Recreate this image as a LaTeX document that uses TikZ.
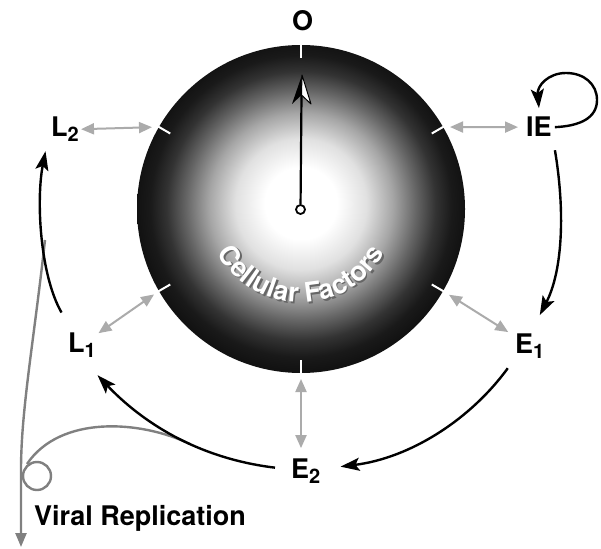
\documentclass[tikz,border=0pt]{standalone}
\usepackage{fontspec}
\setmainfont{TeX Gyre Heros}
\usetikzlibrary{arrows.meta,decorations.text,calc}
\pgfdeclareradialshading{cellshade}{\pgfpoint{0bp}{1bp}}{color(0bp)=(white); color(5.5bp)=(white); color(10bp)=(black!12); color(14bp)=(black!35); color(17.5bp)=(black!60); color(20.5bp)=(black!80); color(23bp)=(black!90); color(25bp)=(black!93); color(40bp)=(black!93)}
\newcommand\sbx[1]{\raisebox{-5pt}{\fontsize{20}{20}\selectfont #1}}
\newcommand\cffont{\fontsize{27}{27}\selectfont\bfseries}
\begin{document}
\begin{tikzpicture}[x=1pt,y=1pt,
 lbl/.style={font=\fontsize{27}{27}\selectfont\bfseries, inner sep=0pt, anchor=base west},
 gdbl/.style={draw=black!33, line width=2pt, {Triangle[length=13pt,width=11pt]}-{Triangle[length=13pt,width=11pt]}},
 blk/.style={draw=black, line width=2.4pt, -{Stealth[length=19pt,width=13pt,inset=4pt]}},
 vrline/.style={draw=black!50, line width=2.4pt},
 tickline/.style={white, line width=2pt}]
\useasboundingbox (0,0) rectangle (601,-548);
\fill[white] (0,0) rectangle (601,-548);

% labels
\node[lbl] (O) at (292,-31) {O};
\node[lbl] (IE) at (526,-137) {IE};
\node[lbl] (L2) at (51,-137) {L\sbx{2}};
\node[lbl] (L1) at (68,-352) {L\sbx{1}};
\node[lbl] (E1) at (515,-353) {E\sbx{1}};
\node[lbl] (E2) at (291,-478) {E\sbx{2}};
\node[lbl] (VR) at (34,-525) {Viral Replication};

% cell sphere
\node[circle, minimum size=328pt, inner sep=0pt, outer sep=0pt] (cell) at (301,-209) {};
\shade[shading=cellshade] (cell.center) circle (164);
\foreach \a in {30,90,150,210,270,330}
  \draw[tickline] ($(cell.center)+(\a:151)$) -- ($(cell.center)+(\a:165)$);

% curved text
\path[font=\cffont, decorate, decoration={text along path, text align=center,
  text={|\cffont\color{black!60}|Cellular Factors}}]
  ($(cell.center)+(1.5,1)$) ++(200:96) arc[start angle=200, end angle=340, radius=96];
\path[font=\cffont, decorate, decoration={text along path, text align=center,
  text={|\cffont\color{white}|Cellular Factors}}]
  ($(cell.center)+(0,2.5)$) ++(200:96) arc[start angle=200, end angle=340, radius=96];

% central pointer
\node[circle, draw=black, fill=white, line width=1.8pt, minimum size=9pt, inner sep=0pt] (hub) at (300.5,-209.5) {};
\coordinate (notch) at (301.5,-95);
\draw[line width=2.2pt] (hub) -- (notch);
\fill[black] (302,-75) -- (292,-104) -- (notch) -- cycle;
\filldraw[fill=white, draw=black, line width=1pt, line join=round] (302,-75) -- (notch) -- (311,-104) -- cycle;

% gray exchange arrows
\draw[gdbl, shorten <=7pt, shorten >=8pt] (cell.30) -- (IE);
\draw[gdbl, shorten <=7pt, shorten >=2pt] (cell.150) -- (L2);
\draw[gdbl, shorten <=6pt, shorten >=3pt] (cell.210) -- (L1);
\draw[gdbl, shorten <=7pt, shorten >=8pt] (cell.330) -- (E1);
\draw[gdbl, shorten <=6pt, shorten >=10pt] (cell.270) -- (cell.270 |- E2.north);

% viral replication branch
\coordinate (vrTop) at (45,-240);
\coordinate (vrEnd) at (21,-547);
\coordinate (vrFork) at (190,-444);
\coordinate (vrLoop) at (37,-476);
\draw[vrline, -{Triangle[length=14pt,width=11pt]}] (vrTop) .. controls (34,-340) and (21,-410) .. (21,-470) -- (vrEnd);
\draw[vrline] (vrFork) .. controls (140,-420) and (60,-415) .. (27,-464);
\draw[vrline] (vrLoop) circle (14);

% black cycle arrows
\draw[blk] ([shift={(3,0)}]IE.east) .. controls (580,-126) and (597,-118) .. (597,-100)
  .. controls (597,-84) and (584,-73) .. (566,-73)
  .. controls (548,-73) and (537,-86) .. ([shift={(0,9)}]IE.north);
\draw[blk] ([shift={(3,-13)}]IE.south east) .. controls (565,-210) and (563,-270) .. ([shift={(10,18)}]E1.north);
\draw[blk] ([shift={(-22,-10)}]E1.south) .. controls (470,-420) and (410,-458) .. ([shift={(20,4)}]E2.east);
\draw[blk] ([shift={(-16,3)}]E2.west) .. controls (195,-458) and (140,-420) .. ([shift={(15.5,-18)}]L1.south);
\draw[blk] ([shift={(-20.5,19.6)}]L1.north) .. controls (40,-275) and (36,-200) .. ([shift={(-19.5,-9)}]L2.south);
\end{tikzpicture}
\end{document}
